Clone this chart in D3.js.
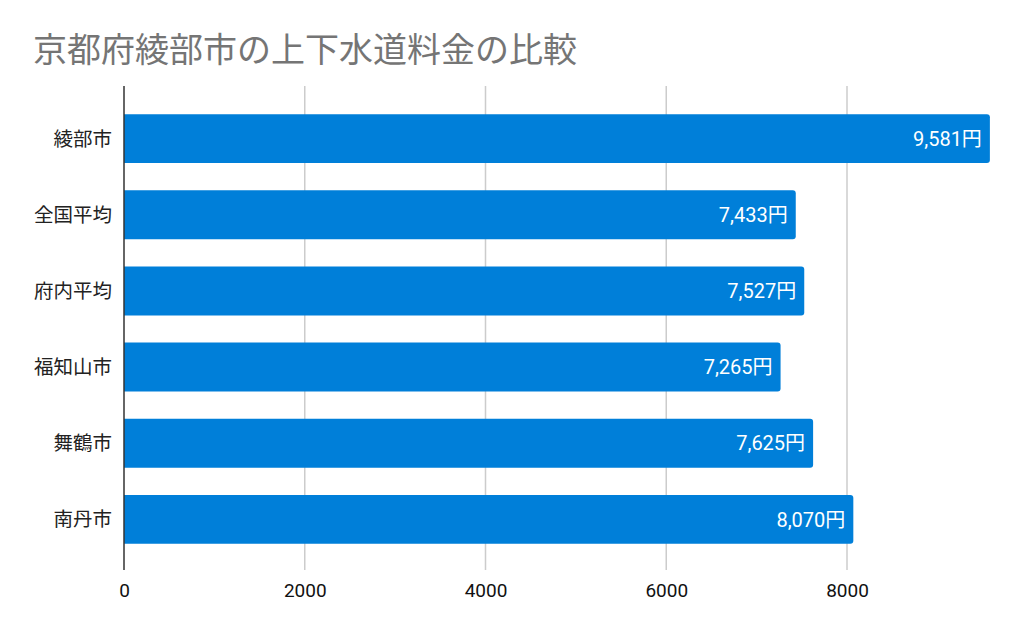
<!DOCTYPE html>
<html><head><meta charset="utf-8">
<script src="https://cdn.jsdelivr.net/npm/d3@7"></script>
<style>body{margin:0;background:#fff}svg{display:block}</style>
</head><body>
<script>
const categories = ["綾部市","全国平均","府内平均","福知山市","舞鶴市","南丹市"];
const values = [9581,7433,7527,7265,7625,8070];
const tickValues = [0,2000,4000,6000,8000];
const title = "京都府綾部市の上下水道料金の比較";

const W=1024,H=633;
const svg=d3.select("body").append("svg").attr("width",W).attr("height",H);
const x=d3.scaleLinear().domain([0,8000]).range([124,847]);
const y=d3.scaleBand().domain(categories).range([100.5,557.5]).paddingInner(0.357).paddingOuter(0.179);
const plotTop=86,plotBottom=570;

svg.append("text").attr("x",33).attr("y",62).attr("fill","#757575")
 .attr("font-family","'Noto Sans CJK JP'").attr("font-size",34).text(title);

// gridlines
svg.append("g").selectAll("line").data(tickValues.slice(1)).join("line")
 .attr("x1",d=>x(d)).attr("x2",d=>x(d)).attr("y1",plotTop).attr("y2",plotBottom)
 .attr("stroke","#cccccc").attr("stroke-width",1.5);

// bars with rounded right corners
const r=3;
svg.append("g").selectAll("path").data(values).join("path")
 .attr("fill","#007fd9")
 .attr("d",(d,i)=>{const x0=x(0),x1=x(d),y0=y(categories[i]),h=y.bandwidth();
   return `M${x0},${y0}H${x1-r}Q${x1},${y0} ${x1},${y0+r}V${y0+h-r}Q${x1},${y0+h} ${x1-r},${y0+h}H${x0}Z`;});

// value labels
const fmt=d3.format(",");
svg.append("g").selectAll("text").data(values).join("text")
 .attr("x",d=>x(d)-8).attr("y",(d,i)=>y(categories[i])+y.bandwidth()/2)
 .attr("dy","0.36em").attr("text-anchor","end").attr("fill","#fff")
 .attr("font-family","Roboto,'Noto Sans CJK JP'").attr("font-size",20)
 .text(d=>fmt(d)+"円");

// y axis line
svg.append("line").attr("x1",x(0)).attr("x2",x(0)).attr("y1",plotTop).attr("y2",plotBottom)
 .attr("stroke","#333").attr("stroke-width",1.5);

// category labels
svg.append("g").selectAll("text").data(categories).join("text")
 .attr("x",112).attr("y",d=>y(d)+y.bandwidth()/2).attr("dy","0.36em")
 .attr("text-anchor","end").attr("fill","#222")
 .attr("font-family","'Noto Sans CJK JP'").attr("font-size",19.5).text(d=>d);

// x tick labels
const xAxis=d3.axisBottom(x).tickValues(tickValues).tickSize(0).tickPadding(0).tickFormat(d3.format("d"));
const gx=svg.append("g").attr("transform",`translate(0,${plotBottom+27})`).call(xAxis);
gx.select(".domain").remove();
gx.selectAll("text").attr("font-family","Roboto").attr("font-size",19).attr("fill","#111").attr("dy","0");
</script>
</body></html>
